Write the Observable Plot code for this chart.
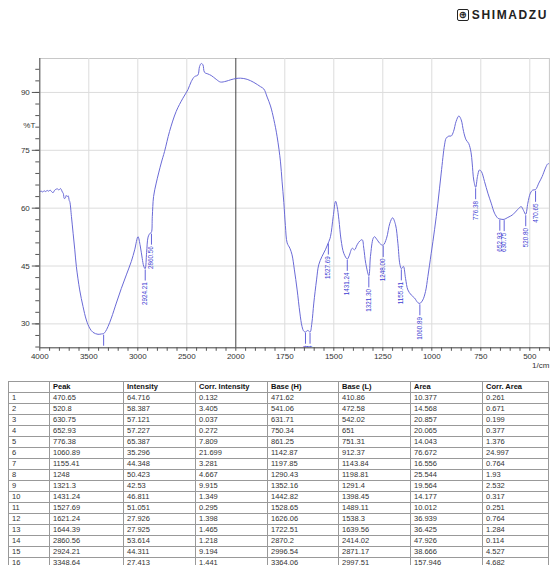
<!DOCTYPE html>
<html>
<head>
<meta charset="utf-8">
<script src="https://cdn.jsdelivr.net/npm/d3@7"></script>
<script src="https://cdn.jsdelivr.net/npm/@observablehq/plot@0.6"></script>
<style>
  body { margin:0; width:551px; height:565px; overflow:hidden; background:#fff; position:relative;
         font-family: "Liberation Sans", Arial, sans-serif; }
  #logo { position:absolute; right:3px; top:8px; display:flex; align-items:center; gap:3px; color:#222; }
  #logo .box { width:10px; height:10px; border:1.5px solid #222; border-radius:2px; font-size:10px;
               line-height:10px; text-align:center; font-family:"DejaVu Sans", sans-serif; font-weight:bold; }
  #logo .name { font-size:12px; font-weight:900; letter-spacing:1.6px; }
  #chart { position:absolute; left:0; top:40px; }
  table { position:absolute; left:8px; top:381px; width:540px; border-collapse:collapse; table-layout:fixed;
          font-size:7.5px; color:#333; }
  td, th { border:1px solid #999; height:10px; padding:0 3px; line-height:10px; text-align:left;
           white-space:nowrap; overflow:hidden; }
  th { font-weight:bold; color:#111; }
</style>
</head>
<body>
<div id="logo"><span class="box">⊕</span><span class="name">SHIMADZU</span></div>
<div id="chart"></div>
<table id="tbl"></table>
<script>
// ---- spectrum (wavenumber 1/cm, %T) ----
const wavenumber = [4000,3985,3970,3955,3940,3925,3910,3895,3880,3865,3850,3835,3820,3805,3790,3780,3770,3760,3750,3740,3730,3720,3710,3700,3694,3677,3660,3643,3627,3593,3559,3525,3491,3457,3406,3370,3348,3330,3304,3270,3219,3168,3117,3066,3032,2998,2975,2955,2940,2925,2910,2895,2875,2862,2852,2839,2812,2761,2727,2676,2608,2540,2489,2455,2421,2387,2370,2353,2336,2319,2285,2251,2200,2157,2100,2050,
  2000,1976,1942,1908,1874,1857,1840,1823,1806,1789,1772,1764,1755,1747,1738,1724,1713,1701,1687,1673,1662,1653,1644,1633,1621,1612,1602,1588,1577,1560,1543,1528,1517,1503,1491,1483,1474,1463,1449,1431,1422,1406,1394,1381,1367,1355,1347,1337,1321,1313,1299,1292,1279,1262,1248,1231,1214,1200,1185,1173,1163,1155,1145,1134,1122,1105,1088,1071,1061,1046,1032,1020,1003,986,969,952,935,927,913,901,889,876,862,850,838,825,812,800,794,786,776,767,757,747,731,714,697,680,663,653,642,631,612,587,561,544,532,521,510,497,485,471,454,437,420,408,400];
const transmittance = [64.3,64.4,64.2,64.5,64.3,64.6,64.4,64.7,64.3,64.0,64.6,64.9,65.0,64.7,65.1,64.8,64.2,63.8,62.5,62.6,63.3,63.0,63.2,62.0,61.7,57.8,53.5,49.2,44.9,38.8,34.5,31.0,28.9,27.8,27.3,27.4,27.5,28.0,29.3,31.5,35.4,39.2,42.7,46.2,49.2,52.6,50.2,47.0,45.0,44.3,48.5,52.5,53.5,53.7,57.8,63.0,66.5,71.7,74.7,79.9,85.1,88.5,90.7,92.8,94.1,94.5,96.7,97.5,97.2,95.2,94.8,94.4,93.4,92.7,92.9,93.3,
  93.6,93.7,93.4,92.6,91.5,90.9,88.8,86.5,83.0,78.5,72.0,67.0,61.5,55.5,51.0,49.6,47.9,44.0,38.8,32.8,29.3,28.1,27.9,28.3,27.9,30.2,35.4,41.4,45.3,47.5,49.2,51.0,52.6,57.8,61.8,60.4,57.0,51.8,48.3,46.8,47.6,49.6,49.2,50.5,51.5,51.8,49.6,45.7,42.5,47.5,52.2,52.6,51.8,50.7,50.4,52.2,56.1,57.5,55.7,50.9,45.5,44.3,44.9,41.8,38.8,37.5,36.7,35.5,35.3,36.2,38.4,42.3,48.3,54.4,61.3,69.1,76.4,78.1,78.7,78.7,79.9,82.5,83.9,82.9,79.9,77.7,76.8,74.5,71.7,67.3,65.4,68.2,69.9,69.5,66.9,63.9,61.3,58.7,57.4,57.2,57.1,57.1,57.6,58.3,59.7,60.4,59.4,58.4,61.3,63.9,64.7,64.8,66.5,68.2,70.4,71.5,71.5];

// ---- peak table ----
const peak = [470.65,520.8,630.75,652.93,776.38,1060.89,1155.41,1248,1321.3,1431.24,1527.69,1621.24,1644.39,2860.56,2924.21,3348.64];
const intensity = [64.716,58.387,57.121,57.227,65.387,35.296,44.348,50.423,42.53,46.811,51.051,27.926,27.925,53.614,44.311,27.413];
const corrIntensity = [0.132,3.405,0.037,0.272,7.809,21.699,3.281,4.667,9.915,1.349,0.295,1.398,1.465,1.218,9.194,1.441];
const baseH = [471.62,541.06,631.71,750.34,861.25,1142.87,1197.85,1290.43,1352.16,1442.82,1528.65,1626.06,1722.51,2870.2,2996.54,3364.06];
const baseL = [410.86,472.58,542.02,651,751.31,912.37,1143.84,1198.81,1291.4,1398.45,1489.11,1538.3,1639.56,2414.02,2871.17,2997.51];
const area = [10.377,14.568,20.857,20.065,14.043,76.672,16.556,25.544,19.564,14.177,10.012,36.939,36.425,47.926,38.666,157.946];
const corrArea = [0.261,0.671,0.199,0.377,1.376,24.997,0.764,1.93,2.532,0.317,0.251,0.764,1.284,0.114,4.527,4.682];
const headers = ["", "Peak", "Intensity", "Corr. Intensity", "Base (H)", "Base (L)", "Area", "Corr. Area"];

// ---- axis ticks ----
const xTickLabels = [4000,3500,3000,2500,2000,1750,1500,1250,1000,750,500];
const yTickLabels = [30,45,60,75,90];

const spectrum = wavenumber.map((w, i) => ({w, t: transmittance[i]}));
const peaks = peak.map((p, i) => ({p, t: intensity[i], label: p.toFixed(2)}));

const xMinor = [...d3.range(4000, 2000, -100), ...d3.range(2000, 399, -50)];
const yMinor = d3.range(24, 99, 3);
const gridX = xTickLabels.filter(v => v !== 4000 && v !== 2000);
const yMin = 23.8, yMax = 98.8;

const axisColor = "#555";
const blue = "#3c3cd2";

// Shimadzu charts double the scale below 2000 1/cm
const splitScale = w => (w >= 2000 ? w : 2 * w - 2000);

const chart = Plot.plot({
  width: 551,
  height: 335,
  marginLeft: 39.3,
  marginRight: 2.1,
  marginTop: 18,
  marginBottom: 27.7,
  style: {fontFamily: "'Liberation Sans', Arial, sans-serif", background: "#fff"},
  x: {transform: splitScale, reverse: true, axis: null, label: null},
  y: {domain: [yMin, yMax], axis: null, label: null},
  marks: [
    Plot.frame({stroke: "#c8c8c8"}),
    Plot.ruleX(gridX, {stroke: "#dcdcdc", strokeWidth: 1}),
    Plot.ruleY(yTickLabels, {stroke: "#dcdcdc", strokeWidth: 1}),
    Plot.ruleX([2000], {stroke: "#444", strokeWidth: 1}),
    Plot.line(spectrum, {x: "w", y: "t", stroke: "#6a6ad6", strokeWidth: 1, curve: "catmull-rom", clip: true}),
    Plot.ruleX(peaks, {x: "p", y1: d => d.t - 0.35, y2: d => d.t - 3.2, stroke: blue, strokeWidth: 0.8, clip: true}),
    Plot.text(peaks, {x: "p", y: "t", text: "label", rotate: -90, textAnchor: "end", dy: 13.5,
                      fontSize: 6.3, fill: blue, clip: true}),
    Plot.ruleX([4000], {stroke: axisColor, strokeWidth: 1}),
    Plot.ruleY([yMin], {stroke: axisColor, strokeWidth: 1}),
    Plot.axisX(xMinor, {tickSize: 3.5, text: null, stroke: axisColor, label: null}),
    Plot.text(xTickLabels, {x: d => d, text: d => String(d), frameAnchor: "bottom", dy: 11, fontSize: 8, fill: "#333"}),
    Plot.axisY(yMinor, {tickSize: 4, text: null, stroke: axisColor, label: null}),
    Plot.axisY(yTickLabels, {tickSize: 7.5, tickPadding: 2.5, fontSize: 8, fill: "#333", stroke: axisColor, label: null}),
    Plot.text(["%T"], {frameAnchor: "top-left", dx: -16.5, dy: 64, fontSize: 8, fill: "#333"}),
    Plot.text(["1/cm"], {frameAnchor: "bottom-right", dy: 20, textAnchor: "end", fontSize: 8, fill: "#333"})
  ]
});
document.getElementById("chart").appendChild(chart);

// ---- table ----
const widths = [41, 74, 72, 72, 71, 72, 72, 66];
const tbl = document.getElementById("tbl");
const colgroup = document.createElement("colgroup");
widths.forEach(w => { const c = document.createElement("col"); c.style.width = w + "px"; colgroup.appendChild(c); });
tbl.appendChild(colgroup);
const hr = document.createElement("tr");
headers.forEach(h => { const th = document.createElement("th"); th.textContent = h; hr.appendChild(th); });
tbl.appendChild(hr);
peak.forEach((p, i) => {
  const tr = document.createElement("tr");
  [i + 1, p, intensity[i], corrIntensity[i], baseH[i], baseL[i], area[i], corrArea[i]].forEach(v => {
    const td = document.createElement("td"); td.textContent = String(v); tr.appendChild(td);
  });
  tbl.appendChild(tr);
});
</script>
</body>
</html>
